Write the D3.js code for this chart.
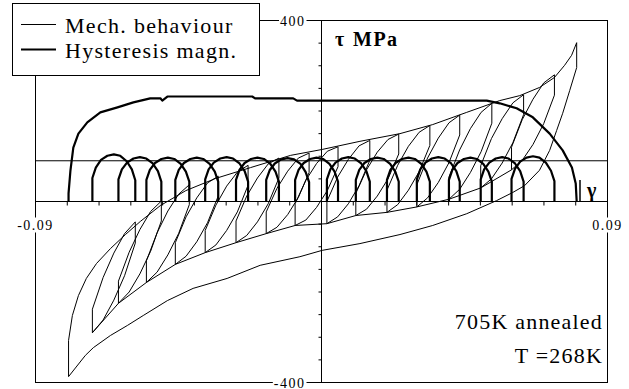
<!DOCTYPE html>
<html>
<head>
<meta charset="utf-8">
<script src="https://cdn.jsdelivr.net/npm/d3@7"></script>
<style>
  html, body { margin: 0; padding: 0; background: #fff; }
  svg { display: block; }
  text { font-family: "Liberation Serif", "Times New Roman", serif; fill: #000; }
</style>
</head>
<body>
<svg id="chart" width="629" height="389"></svg>
<script>
// ---- axis ticks and labels ----
const xTickValues = [-0.09,-0.08,-0.07,-0.06,-0.05,-0.04,-0.03,-0.02,-0.01,0,0.01,0.02,0.03,0.04,0.05,0.06,0.07,0.08,0.09];
const yTickValues = [-400,-350,-300,-250,-200,-150,-100,-50,0,50,100,150,200,250,300,350,400];
const xEndLabels = [[-0.09, "-0.09"], [0.09, "0.09"]];
const yEndLabels = [[400, "400"], [-400, "-400"]];

// ---- outer loop: loading branch (gamma, tau MPa) ----
const outerLoading = [
  [-0.0796,-387],[-0.0796,-307],[-0.0784,-252],[-0.0765,-208],[-0.0740,-170],[-0.0708,-137],
  [-0.0664,-104],[-0.0617,-73],[-0.0570,-44],[-0.0507,-9],[-0.0427,24],[-0.0333,51],
  [-0.0223,75],[-0.0097,102],[0.0002,115],[0.0121,133],[0.0247,150],[0.0350,170],
  [0.0457,197],[0.0561,223],[0.0624,234],[0.0686,252],[0.0733,274],[0.0765,301],
  [0.0787,323],[0.0803,351]
];
// ---- outer loop: unloading branch ----
const outerUnloading = [
  [0.0803,351],[0.0803,296],[0.0781,245],[0.0759,195],[0.0740,157],[0.0718,113],
  [0.0686,69],[0.0639,35],[0.0602,20],[0.0551,2],[0.0457,-27],[0.0350,-53],
  [0.0247,-73],[0.0121,-93],[0.0002,-108],[-0.0068,-122],[-0.0193,-141],[-0.0297,-170],
  [-0.0404,-192],[-0.0485,-219],[-0.0561,-252],[-0.0611,-274],[-0.0664,-296],
  [-0.0718,-323],[-0.0743,-340],[-0.0796,-387]
];

// ---- minor loops ----
const loopStart = [-0.0721,-0.0639,-0.0551,-0.0460,-0.0366,-0.0269,-0.0174,-0.0083,0.0017,0.0108,0.0206,0.0300,0.0401,0.0501,0.0598];
const loopEnd   = [-0.0586,-0.0504,-0.0416,-0.0325,-0.0231,-0.0134,-0.0039,0.0052,0.0152,0.0243,0.0341,0.0435,0.0536,0.0636,0.0733];
// fractions of each loop's strain span at which stresses are listed
const loadStations   = [0, 0, 0.25, 0.5, 0.75, 1];
const unloadStations = [1, 1, 0.75, 0.5, 0.25, 0];
const loopLoading = [
  [-290,-238,-168,-114,-71,-45],
  [-225,-176,-112,-62,-22,1],
  [-179,-131,-69,-21,16,37],
  [-139,-91,-34,8,41,56],
  [-113,-64,-8,34,65,80],
  [-91,-43,12,52,83,96],
  [-71,-23,29,67,96,107],
  [-53,-5,47,84,111,121],
  [-49,0,54,93,123,135],
  [-31,18,70,109,137,149],
  [-24,25,80,122,153,168],
  [-12,37,96,140,174,191],
  [5,54,114,161,197,217],
  [30,79,139,183,218,236],
  [70,120,181,226,262,280]
];
const loopUnloading = [
  [-45,-92,-164,-218,-262,-290],
  [1,-43,-110,-160,-200,-225],
  [37,-7,-71,-118,-156,-179],
  [56,12,-47,-89,-121,-139],
  [80,36,-23,-64,-96,-113],
  [96,52,-5,-45,-75,-91],
  [107,64,9,-29,-57,-71],
  [121,77,24,-13,-41,-53],
  [135,91,35,-5,-34,-49],
  [149,105,50,12,-17,-31],
  [168,124,66,25,-7,-24],
  [191,147,86,42,8,-12],
  [217,173,110,64,27,5],
  [236,192,130,85,50,30],
  [280,235,172,126,91,70]
];

// ---- hysteresis magnitude ----
const bigArch = [
  [-0.0796,0],[-0.0796,18],[-0.0790,69],[-0.0781,119],[-0.0765,150],[-0.0737,175],
  [-0.0696,197],[-0.0642,208],[-0.0592,219],[-0.0539,228],[-0.0507,228],[-0.0501,223],
  [-0.0485,232],[-0.0218,232],[-0.0209,228],[-0.0089,228],[-0.0077,223],[0.0520,223],
  [0.0561,217],[0.0614,206],[0.0665,186],[0.0718,150],[0.0759,113],[0.0788,75],
  [0.0800,40],[0.0803,0]
];
const archStations = [0, 0, 0.08, 0.2, 0.35, 0.5, 0.65, 0.8, 0.92, 1, 1];
const archMagnitude = [
  [0,52,75,92,101,104,101,89,71,47,0],
  [0,49,71,86,95,98,95,84,67,44,0],
  [0,48,70,85,94,97,94,83,66,44,0],
  [0,48,70,85,94,97,94,83,66,44,0],
  [0,49,71,86,95,98,95,84,67,44,0],
  [0,48,70,85,94,97,94,83,66,44,0],
  [0,48,69,84,93,96,93,83,65,43,0],
  [0,48,70,85,94,97,94,83,66,44,0],
  [0,49,71,86,95,98,95,84,67,44,0],
  [0,48,70,85,94,97,94,83,66,44,0],
  [0,48,70,85,94,97,94,83,66,44,0],
  [0,49,71,86,95,98,95,84,67,44,0],
  [0,48,70,85,94,97,94,83,66,44,0],
  [0,49,71,86,95,98,95,84,67,44,0],
  [0,50,72,88,97,100,97,86,68,45,0]
];
const meanLevel = 90;

const legendItems = [["Mech. behaviour", 1], ["Hysteresis magn.", 2.2]];
const notes = ["705K annealed", "T =268K"];

// ---- drawing ----
const svg = d3.select("#chart");
const x = d3.scaleLinear().domain([-0.09, 0.09]).range([35.5, 607.5]);
const y = d3.scaleLinear().domain([-400, 400]).range([382.5, 20.5]);
const line = d3.line().x(d => x(d[0])).y(d => y(d[1]));

// frame
svg.append("rect")
  .attr("x", x(-0.09)).attr("y", y(400))
  .attr("width", x(0.09) - x(-0.09)).attr("height", y(-400) - y(400))
  .attr("fill", "none").attr("stroke", "#000").attr("stroke-width", 1);

// mean magnitude level
svg.append("line")
  .attr("x1", x(-0.09)).attr("x2", x(0.09))
  .attr("y1", y(meanLevel)).attr("y2", y(meanLevel))
  .attr("stroke", "#000").attr("stroke-width", 1);

// axes through the origin
svg.append("g").attr("transform", `translate(0,${y(0)})`)
  .call(d3.axisBottom(x).tickValues(xTickValues).tickSize(4).tickSizeOuter(0).tickFormat("").offset(0));
svg.append("g").attr("transform", `translate(${x(0)},0)`)
  .call(d3.axisLeft(y).tickValues(yTickValues).tickSize(3).tickSizeOuter(0).tickFormat("").offset(0));
svg.selectAll(".domain, .tick line").attr("stroke", "#000").attr("stroke-width", 1);

// mechanical behaviour: outer loop
svg.append("path")
  .datum(outerLoading.concat(outerUnloading))
  .attr("d", line).attr("fill", "none").attr("stroke", "#000").attr("stroke-width", 1);

// mechanical behaviour: minor loops
const minorPath = [];
loopStart.forEach((L, i) => {
  const R = loopEnd[i];
  loadStations.forEach((s, k) => minorPath.push([L + s * (R - L), loopLoading[i][k]]));
  unloadStations.forEach((s, k) => minorPath.push([L + s * (R - L), loopUnloading[i][k]]));
});
svg.append("path")
  .datum(minorPath)
  .attr("d", line).attr("fill", "none").attr("stroke", "#000").attr("stroke-width", 1);

// hysteresis magnitude
svg.append("path")
  .datum(bigArch)
  .attr("d", line).attr("fill", "none").attr("stroke", "#000").attr("stroke-width", 2.2)
  .attr("stroke-linejoin", "round");
loopStart.forEach((L, i) => {
  const R = loopEnd[i];
  const pts = archStations.map((s, k) => [L + s * (R - L), archMagnitude[i][k]]);
  svg.append("path")
    .datum(pts)
    .attr("d", line).attr("fill", "none").attr("stroke", "#000").attr("stroke-width", 2.2)
    .attr("stroke-linejoin", "round");
});

// end labels that interrupt the frame
function boxedLabel(tx, ty, str, anchor) {
  const g = svg.append("g");
  const t = g.append("text").attr("x", tx).attr("y", ty)
    .attr("text-anchor", anchor).attr("font-size", 14).attr("letter-spacing", 1.5).text(str);
  const b = t.node().getBBox();
  g.insert("rect", "text").attr("x", b.x - 1).attr("y", b.y)
    .attr("width", b.width + 2).attr("height", b.height).attr("fill", "#fff");
}
yEndLabels.forEach(([v, s]) => boxedLabel(x(0) - 16, y(v) + 5, s, "end"));
xEndLabels.forEach(([v, s]) => boxedLabel(x(v), y(0) + 28, s, "middle"));

// axis titles
svg.append("text").attr("x", 335).attr("y", 46)
  .attr("font-size", 20).attr("font-weight", "bold")
  .text("\u03c4");
svg.append("text").attr("x", 353).attr("y", 46)
  .attr("font-size", 20).attr("font-weight", "bold").attr("letter-spacing", 1.5)
  .text("MPa");
svg.append("line").attr("x1", 580).attr("x2", 580).attr("y1", 180).attr("y2", y(0))
  .attr("stroke", "#000").attr("stroke-width", 1.5);
svg.append("text").attr("x", 587).attr("y", 197)
  .attr("font-size", 20).attr("font-weight", "bold").text("\u03b3");

// legend
svg.append("rect").attr("x", 12.5).attr("y", 3.5).attr("width", 247).attr("height", 72)
  .attr("fill", "#fff").attr("stroke", "#000").attr("stroke-width", 1);
legendItems.forEach(([label, sw], i) => {
  const ly = 24.5 + i * 25;
  svg.append("line").attr("x1", 21).attr("x2", 56).attr("y1", ly).attr("y2", ly)
    .attr("stroke", "#000").attr("stroke-width", sw);
  svg.append("text").attr("x", 65).attr("y", ly + 8.5)
    .attr("font-size", 22).attr("letter-spacing", 1.3).text(label);
});

// annotations
notes.forEach((s, i) => {
  svg.append("text").attr("x", 603).attr("y", 329 + i * 34)
    .attr("text-anchor", "end").attr("font-size", 22).attr("letter-spacing", 1.2).text(s);
});
</script>
</body>
</html>
